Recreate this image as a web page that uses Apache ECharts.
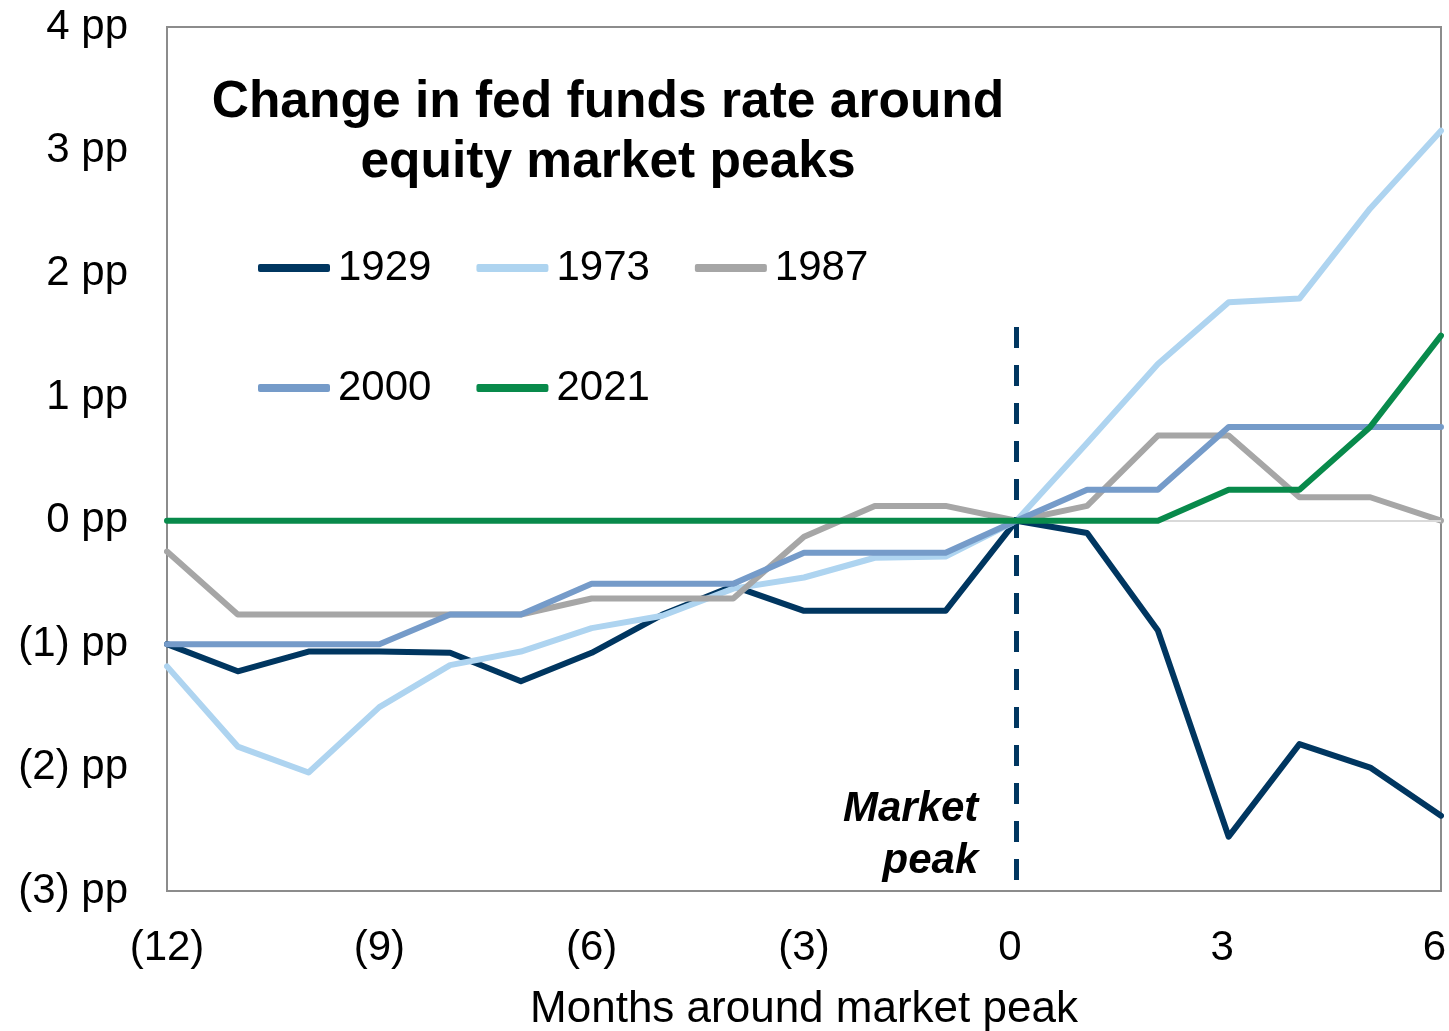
<!DOCTYPE html>
<html>
<head>
<meta charset="utf-8">
<title>Fed funds around equity market peaks</title>
<script src="https://cdn.jsdelivr.net/npm/echarts@6/dist/echarts.min.js"></script>
<style>
  html, body { margin: 0; padding: 0; background: #fff; }
  #chart { width: 1449px; height: 1031px; }
</style>
</head>
<body>
<div id="chart"></div>
<script>
// months relative to the market peak
const months = [-12, -11, -10, -9, -8, -7, -6, -5, -4, -3, -2, -1, 0, 1, 2, 3, 4, 5, 6]

// change in fed funds rate (pp)
const s1929 = [-1.00, -1.22, -1.06, -1.06, -1.07, -1.30, -1.07, -0.76, -0.53, -0.73, -0.73, -0.73, 0, -0.10, -0.89, -2.56, -1.81, -2.00, -2.39]
const s1973 = [-1.18, -1.83, -2.04, -1.51, -1.17, -1.06, -0.87, -0.77, -0.55, -0.46, -0.30, -0.29, 0, 0.63, 1.27, 1.77, 1.80, 2.53, 3.16]
const s1987 = [-0.25, -0.76, -0.76, -0.76, -0.76, -0.76, -0.63, -0.63, -0.63, -0.13, 0.12, 0.12, 0, 0.12, 0.69, 0.69, 0.19, 0.19, 0]
const s2000 = [-1.00, -1.00, -1.00, -1.00, -0.76, -0.76, -0.51, -0.51, -0.51, -0.26, -0.26, -0.26, 0, 0.25, 0.25, 0.76, 0.76, 0.76, 0.76]
const s2021 = [0, 0, 0, 0, 0, 0, 0, 0, 0, 0, 0, 0, 0, 0, 0, 0.25, 0.25, 0.76, 1.50]

const seriesNames = ['1929', '1973', '1987', '2000', '2021']
const seriesColors = ['#003660', '#aed4f0', '#a6a6a6', '#759bc9', '#088a4b']

// axis ticks
const xTicks = [-12, -9, -6, -3, 0, 3, 6]
const yTicks = [-3, -2, -1, 0, 1, 2, 3, 4]

// market peak marker
const peakMonth = 0
const peakLineTop = 1.57
const peakLabelY = -2.55

const font = '"Liberation Sans", Arial, sans-serif'
const chart = echarts.init(document.getElementById('chart'))

const pairs = (vals) => months.map((m, i) => [m, vals[i]])
const allValues = [s1929, s1973, s1987, s2000, s2021]

const series = seriesNames.map((name, i) => ({
  name: name,
  type: 'line',
  data: pairs(allValues[i]),
  symbol: 'none',
  lineStyle: { width: 6, color: seriesColors[i], join: 'round', cap: 'round' },
  itemStyle: { color: seriesColors[i] },
  z: 2 + i
}))

// light zero line under everything
series[0].markLine = {
  silent: true,
  symbol: 'none',
  label: { show: false },
  lineStyle: { color: '#d9d9d9', width: 2, type: 'solid' },
  data: [{ yAxis: 0 }]
}

// dashed market peak line on top
series[4].markLine = {
  silent: true,
  symbol: 'none',
  label: { show: false },
  lineStyle: { color: '#003660', width: 5, type: [21, 17] },
  data: [[{ coord: [peakMonth, peakLineTop] }, { coord: [peakMonth, yTicks[0]] }]]
}
series[4].markPoint = {
  silent: true,
  symbol: 'circle',
  symbolSize: 0,
  data: [{ coord: [peakMonth, peakLabelY] }],
  label: {
    show: true,
    position: 'left',
    distance: 38,
    formatter: 'Market\npeak',
    align: 'right',
    fontFamily: font,
    fontSize: 42,
    fontWeight: 'bold',
    fontStyle: 'italic',
    lineHeight: 52,
    color: '#000'
  }
}

const legendBase = {
  left: 258,
  padding: 0,
  orient: 'horizontal',
  icon: 'roundRect',
  itemWidth: 72,
  itemHeight: 8,
  itemGap: 45,
  selectedMode: false,
  textStyle: { fontFamily: font, fontSize: 42, color: '#000', padding: [0, 0, 0, 3] }
}

chart.setOption({
  animation: false,
  title: {
    text: 'Change in fed funds rate around\nequity market peaks',
    left: 603,
    top: 68,
    textAlign: 'center',
    textStyle: { fontFamily: font, fontSize: 51.5, fontWeight: 'bold', lineHeight: 60, color: '#000' }
  },
  legend: [
    Object.assign({}, legendBase, { top: 247, data: seriesNames.slice(0, 3) }),
    Object.assign({}, legendBase, { top: 367, data: seriesNames.slice(3) })
  ],
  grid: {
    left: 167,
    right: 8,
    top: 27,
    bottom: 140,
    outerBoundsMode: 'none',
    show: true,
    borderColor: '#8c8c8c',
    borderWidth: 2,
    backgroundColor: 'transparent'
  },
  xAxis: {
    type: 'value',
    min: xTicks[0],
    max: xTicks[xTicks.length - 1],
    interval: 3,
    axisLine: { show: false },
    axisTick: { show: false },
    splitLine: { show: false },
    axisLabel: {
      margin: 36,
      fontFamily: font,
      fontSize: 42,
      color: '#000',
      // positive labels sit a little left, as if padded for the closing bracket
      formatter: v => v < 0 ? '(' + (-v) + ')' : '{pos|' + v + '}',
      rich: {
        pos: { fontFamily: font, fontSize: 42, color: '#000', padding: [0, 13, 0, 0] }
      }
    },
    name: 'Months around market peak',
    nameLocation: 'middle',
    nameGap: 97,
    nameTextStyle: { fontFamily: font, fontSize: 44, color: '#000' }
  },
  yAxis: {
    type: 'value',
    min: yTicks[0],
    max: yTicks[yTicks.length - 1],
    interval: 1,
    axisLine: { show: false },
    axisTick: { show: false },
    splitLine: { show: false },
    axisLabel: {
      margin: 39,
      fontFamily: font,
      fontSize: 42,
      color: '#000',
      formatter: v => v < 0 ? '(' + (-v) + ') pp' : v + ' pp'
    }
  },
  series: series
})
</script>
</body>
</html>
